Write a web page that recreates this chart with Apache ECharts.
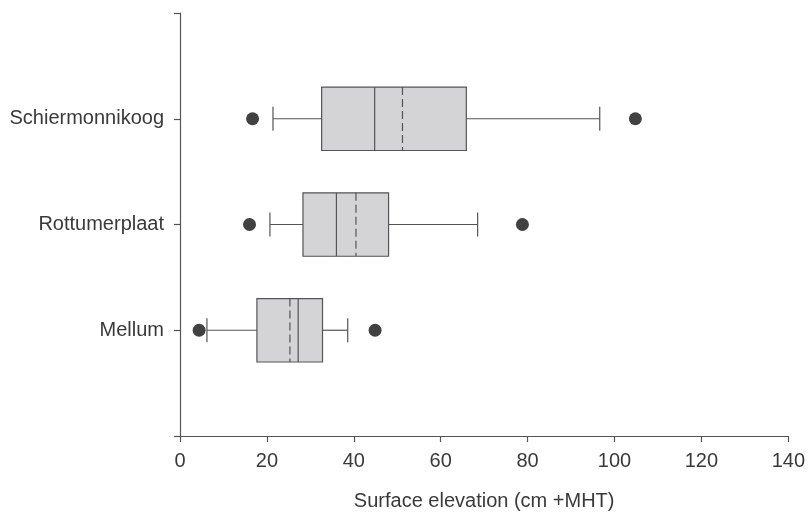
<!DOCTYPE html>
<html>
<head>
<meta charset="utf-8">
<script src="https://cdn.jsdelivr.net/npm/echarts@6/dist/echarts.min.js"></script>
<style>
  html, body { margin: 0; padding: 0; background: #fff; }
  #chart { width: 808px; height: 516px; }
</style>
</head>
<body>
<div id="chart"></div>
<script>
var sites = ['Mellum', 'Rottumerplaat', 'Schiermonnikoog'];
var whiskerLow = [6.2, 20.7, 21.4];
var q1 = [17.7, 28.3, 32.6];
var median = [27.2, 36.0, 44.8];
var q3 = [32.8, 48.0, 65.9];
var whiskerHigh = [38.6, 68.5, 96.6];
var mean = [25.3, 40.5, 51.2];
var outlierLow = [4.4, 16.0, 16.7];
var outlierHigh = [44.9, 78.8, 104.8];
var xTicks = [0, 20, 40, 60, 80, 100, 120, 140];

var chart = echarts.init(document.getElementById('chart'));

var boxData = sites.map(function (s, i) {
    return [i + 1, whiskerLow[i], q1[i], median[i], q3[i], whiskerHigh[i], mean[i]];
});
var dots = [];
sites.forEach(function (s, i) {
    dots.push([outlierLow[i], i + 1]);
    dots.push([outlierHigh[i], i + 1]);
});

var lineCol = '#555';
var textCol = '#3a3a3a';

function renderBox(params, api) {
    var y = api.value(0);
    var pLo = api.coord([api.value(1), y]);
    var pQ1 = api.coord([api.value(2), y]);
    var pMed = api.coord([api.value(3), y]);
    var pQ3 = api.coord([api.value(4), y]);
    var pHi = api.coord([api.value(5), y]);
    var pMean = api.coord([api.value(6), y]);
    var h = api.size([0, 0.6])[1] / 2;
    var c = api.size([0, 0.225])[1] / 2;
    var st = { stroke: lineCol, lineWidth: 1.2, fill: null };
    return {
        type: 'group',
        children: [
            { type: 'line', shape: { x1: pLo[0], y1: pLo[1], x2: pQ1[0], y2: pQ1[1] }, style: st },
            { type: 'line', shape: { x1: pQ3[0], y1: pQ3[1], x2: pHi[0], y2: pHi[1] }, style: st },
            { type: 'line', shape: { x1: pLo[0], y1: pLo[1] - c, x2: pLo[0], y2: pLo[1] + c }, style: st },
            { type: 'line', shape: { x1: pHi[0], y1: pHi[1] - c, x2: pHi[0], y2: pHi[1] + c }, style: st },
            { type: 'rect', shape: { x: pQ1[0], y: pQ1[1] - h, width: pQ3[0] - pQ1[0], height: 2 * h },
              style: { fill: '#d4d4d6', stroke: lineCol, lineWidth: 1.2 } },
            { type: 'line', shape: { x1: pMed[0], y1: pMed[1] - h, x2: pMed[0], y2: pMed[1] + h }, style: st },
            { type: 'line', shape: { x1: pMean[0], y1: pMean[1] - h, x2: pMean[0], y2: pMean[1] + h },
              style: { stroke: lineCol, lineWidth: 1.2, lineDash: [8, 4] } }
        ]
    };
}

var option = {
    animation: false,
    grid: { left: 180, right: 18, top: 13, bottom: 75 },
    xAxis: {
        type: 'value',
        min: xTicks[0],
        max: xTicks[xTicks.length - 1],
        interval: 20,
        name: 'Surface elevation (cm +MHT)',
        nameLocation: 'middle',
        nameGap: 55,
        nameTextStyle: { fontFamily: 'Liberation Sans', fontSize: 20, color: textCol },
        axisLine: { lineStyle: { color: lineCol, width: 1.2 } },
        axisTick: { show: true, inside: false, length: 6, lineStyle: { color: lineCol, width: 1.2 } },
        axisLabel: { margin: 15, fontFamily: 'Liberation Sans', fontSize: 20, color: textCol },
        splitLine: { show: false }
    },
    yAxis: {
        type: 'value',
        min: 0,
        max: 4,
        interval: 1,
        axisLine: { show: true, lineStyle: { color: lineCol, width: 1.2 } },
        axisTick: { show: true, inside: false, length: 6, lineStyle: { color: lineCol, width: 1.2 } },
        axisLabel: {
            margin: 16, fontFamily: 'Liberation Sans', fontSize: 20, color: textCol,
            formatter: function (v) { return sites[v - 1] || ''; }
        },
        splitLine: { show: false }
    },
    series: [
        {
            type: 'custom',
            renderItem: renderBox,
            encode: { y: 0, x: [1, 2, 3, 4, 5, 6] },
            data: boxData,
            z: 2
        },
        {
            type: 'scatter',
            symbol: 'circle',
            symbolSize: 13,
            itemStyle: { color: '#111' },
            data: dots,
            z: 3
        }
    ]
};
chart.setOption(option);
</script>
</body>
</html>
